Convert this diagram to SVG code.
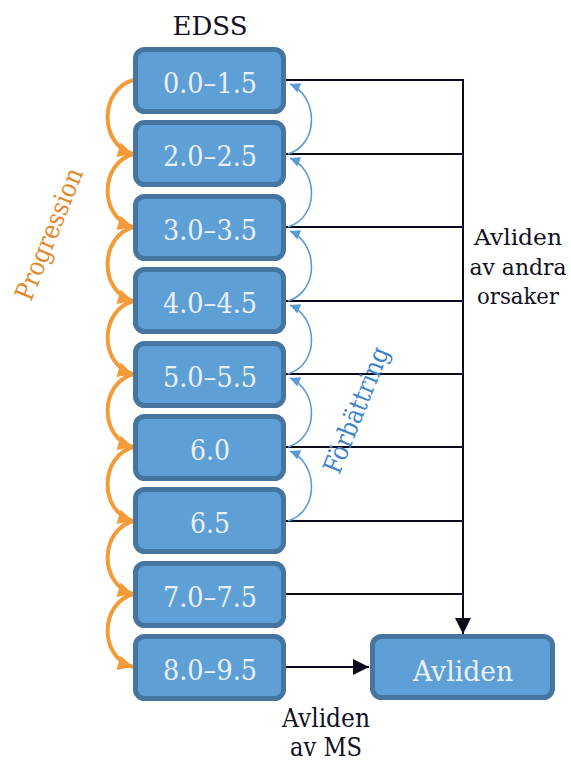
<svg xmlns="http://www.w3.org/2000/svg" width="571" height="762" viewBox="0 0 571 762">
  <style>
    text { font-family: "DejaVu Serif", "Liberation Serif", "Noto Serif", serif; }
    .box rect { fill: #5E9FD6; stroke: #46769F; stroke-width: 5; }
    .box text { font-size: 28px; fill: #EAF0F7; text-anchor: middle; }
    .lbl { font-size: 26px; fill: #111122; text-anchor: middle; }
    .side { font-size: 23px; }
    .link { stroke: #0A0A1A; stroke-width: 2; fill: none; }
    .prog { stroke: #F29B38; stroke-width: 4; fill: none; marker-end: url(#headOrange); }
    .impr { stroke: #5B9BD5; stroke-width: 1.6; fill: none; marker-end: url(#headBlue); }
  </style>
  <defs>
    <marker id="headOrange" viewBox="0 0 10 10" refX="10" refY="5" markerUnits="userSpaceOnUse" markerWidth="16" markerHeight="15" orient="auto">
      <path d="M0,0 L10,5 L0,10 Z" fill="#F29B38"/>
    </marker>
    <marker id="headBlue" viewBox="0 0 10 10" refX="10" refY="5" markerUnits="userSpaceOnUse" markerWidth="11" markerHeight="10" orient="auto">
      <path d="M0,0 L10,5 L0,10 Z" fill="#5B9BD5"/>
    </marker>
    <marker id="headBlack" viewBox="0 0 10 10" refX="10" refY="5" markerUnits="userSpaceOnUse" markerWidth="16" markerHeight="16" orient="auto">
      <path d="M0,0 L10,5 L0,10 Z" fill="#0A0A1A"/>
    </marker>
  </defs>

  <text class="lbl" x="210" y="35" textLength="75" lengthAdjust="spacingAndGlyphs">EDSS</text>

  <!-- connectors -->
  <g id="connectors">
    <!-- exits to the death node from each EDSS level -->
    <path class="link" d="M286,80 H463 V634" marker-end="url(#headBlack)"/>
    <path class="link" d="M286,154 H463"/>
    <path class="link" d="M286,227 H463"/>
    <path class="link" d="M286,301 H463"/>
    <path class="link" d="M286,374 H463"/>
    <path class="link" d="M286,447 H463"/>
    <path class="link" d="M286,521 H463"/>
    <path class="link" d="M286,594 H463"/>
    <path class="link" d="M286,667 H369" marker-end="url(#headBlack)"/>

    <!-- progression arcs (left side) -->
    <path class="prog" d="M134,80 C100,88 98,144 133,154"/>
    <path class="prog" d="M134,154 C100,162 98,217 133,227"/>
    <path class="prog" d="M134,227 C100,235 98,291 133,301"/>
    <path class="prog" d="M134,301 C100,309 98,364 133,374"/>
    <path class="prog" d="M134,374 C100,382 98,437 133,447"/>
    <path class="prog" d="M134,447 C100,455 98,511 133,521"/>
    <path class="prog" d="M134,521 C100,529 98,584 133,594"/>
    <path class="prog" d="M134,594 C100,602 98,657 133,667"/>

    <!-- improvement arcs (right side) -->
    <path class="impr" d="M288,154 C320,144 318,96 290,84"/>
    <path class="impr" d="M288,227 C320,217 318,170 290,158"/>
    <path class="impr" d="M288,301 C320,291 318,243 290,231"/>
    <path class="impr" d="M288,374 C320,364 318,317 290,305"/>
    <path class="impr" d="M288,447 C320,437 318,390 290,378"/>
    <path class="impr" d="M288,521 C320,511 318,463 290,451"/>
  </g>

  <!-- EDSS levels -->
  <g id="edss-0" class="box"><rect x="135.5" y="49.5" width="148" height="62" rx="9"/><text x="210" y="93" textLength="94" lengthAdjust="spacingAndGlyphs">0.0–1.5</text></g>
  <g id="edss-2" class="box"><rect x="135.5" y="122.5" width="148" height="62" rx="9"/><text x="210" y="166" textLength="94" lengthAdjust="spacingAndGlyphs">2.0–2.5</text></g>
  <g id="edss-3" class="box"><rect x="135.5" y="196.5" width="148" height="62" rx="9"/><text x="210" y="240" textLength="94" lengthAdjust="spacingAndGlyphs">3.0–3.5</text></g>
  <g id="edss-4" class="box"><rect x="135.5" y="269.5" width="148" height="62" rx="9"/><text x="210" y="313" textLength="94" lengthAdjust="spacingAndGlyphs">4.0–4.5</text></g>
  <g id="edss-5" class="box"><rect x="135.5" y="343.5" width="148" height="62" rx="9"/><text x="210" y="387" textLength="94" lengthAdjust="spacingAndGlyphs">5.0–5.5</text></g>
  <g id="edss-6" class="box"><rect x="135.5" y="416.5" width="148" height="62" rx="9"/><text x="210" y="460" textLength="40" lengthAdjust="spacingAndGlyphs">6.0</text></g>
  <g id="edss-65" class="box"><rect x="135.5" y="489.5" width="148" height="62" rx="9"/><text x="210" y="533" textLength="40" lengthAdjust="spacingAndGlyphs">6.5</text></g>
  <g id="edss-7" class="box"><rect x="135.5" y="563.5" width="148" height="62" rx="9"/><text x="210" y="607" textLength="94" lengthAdjust="spacingAndGlyphs">7.0–7.5</text></g>
  <g id="edss-8" class="box"><rect x="135.5" y="636.5" width="148" height="62" rx="9"/><text x="210" y="680" textLength="94" lengthAdjust="spacingAndGlyphs">8.0–9.5</text></g>

  <g id="dead" class="box"><rect x="372.5" y="636.5" width="180" height="61" rx="9"/><text x="463" y="681" textLength="100" lengthAdjust="spacingAndGlyphs">Avliden</text></g>

  <!-- labels -->
  <text class="lbl" transform="translate(49,234) rotate(-68)" x="0" y="9" textLength="140" lengthAdjust="spacingAndGlyphs" style="fill:#E4862A">Progression</text>
  <text class="lbl" transform="translate(356,410) rotate(-68)" x="0" y="9" textLength="134" lengthAdjust="spacingAndGlyphs" style="fill:#3F86C8">Förbättring</text>

  <text class="lbl side" x="518" y="245" textLength="88" lengthAdjust="spacingAndGlyphs">Avliden</text>
  <text class="lbl side" x="518" y="275" textLength="97" lengthAdjust="spacingAndGlyphs">av andra</text>
  <text class="lbl side" x="518" y="304" textLength="82" lengthAdjust="spacingAndGlyphs">orsaker</text>

  <text class="lbl" x="326" y="727" textLength="88" lengthAdjust="spacingAndGlyphs">Avliden</text>
  <text class="lbl" x="326" y="756" textLength="72" lengthAdjust="spacingAndGlyphs">av MS</text>
</svg>
